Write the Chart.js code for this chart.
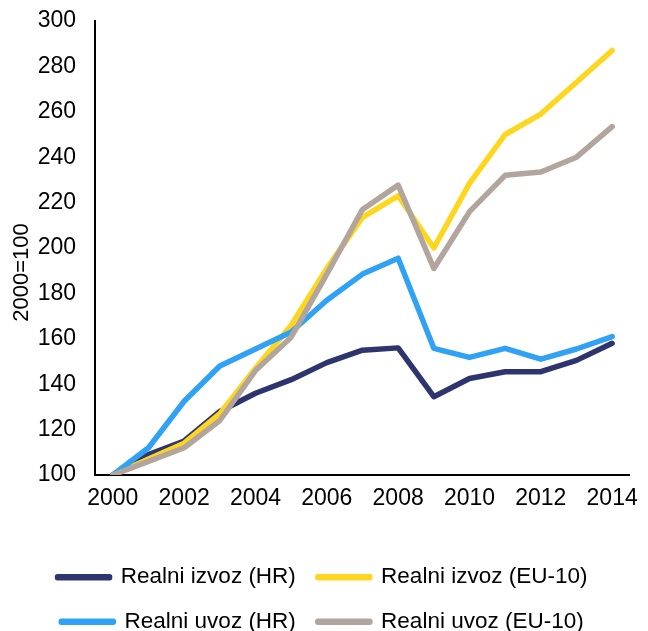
<!DOCTYPE html>
<html>
<head>
<meta charset="utf-8">
<script src="https://cdn.jsdelivr.net/npm/chart.js@4"></script>
<style>
    html, body { margin: 0; padding: 0; background: #fff; }
    .chart-container { position: relative; width: 648px; height: 631px; }
</style>
</head>
<body>
<div class="chart-container">
    <canvas id="tradeChart"></canvas>
</div>
<script>
// Years on the x axis (2000 = 100)
const years = ["2000", "2001", "2002", "2003", "2004", "2005", "2006", "2007",
    "2008", "2009", "2010", "2011", "2012", "2013", "2014"];

// Series
const izvozHR = [100, 109, 115, 128, 136, 142, 149.5, 155, 156, 134.5, 142.5, 145.5, 145.5, 150.5, 158];
const izvozEU = [100, 107, 114, 127, 147, 166, 191, 213.5, 223, 200, 228.5, 250, 259, 273, 287];
const uvozHR = [100, 112, 132.5, 148, 155.5, 163, 177, 188.5, 195.5, 155.8, 151.8, 155.8, 151, 155.5, 161];
const uvozEU = [100, 106, 112, 124, 146, 160.7, 188.5, 217, 227.7, 191, 216, 232, 233.5, 240, 253.5];

// Y axis range
const yMin = 100;
const yMax = 300;
const yStep = 20;

const fontFamily = "'Liberation Sans', Arial, sans-serif";

function lineSet(label, data, color, order) {
    return {
        label: label,
        data: data,
        borderColor: color,
        backgroundColor: color,
        borderWidth: 5.5,
        borderJoinStyle: "round",
        borderCapStyle: "round",
        pointRadius: 0,
        tension: 0,
        fill: false,
        order: order
    };
}

document.addEventListener("DOMContentLoaded", () => {
    const ctx = document.getElementById("tradeChart").getContext("2d");

    new Chart(ctx, {
        type: "line",
        data: {
            labels: years,
            datasets: [
                lineSet("Realni izvoz (HR)", izvozHR, "#2e346e", 3),
                lineSet("Realni izvoz (EU-10)", izvozEU, "#ffd61e", 2),
                lineSet("Realni uvoz (HR)", uvozHR, "#2fa2f5", 1),
                lineSet("Realni uvoz (EU-10)", uvozEU, "#b1a59e", 0)
            ]
        },
        options: {
            responsive: true,
            maintainAspectRatio: false,
            animation: false,
            layout: {
                padding: { top: 21, left: 5, right: 8, bottom: -12 }
            },
            scales: {
                x: {
                    type: "category",
                    offset: true,
                    grid: { display: false, drawTicks: false },
                    border: { display: true, color: "#000", width: 2 },
                    ticks: {
                        autoSkip: false,
                        maxRotation: 0,
                        padding: 10,
                        color: "#000",
                        font: { family: fontFamily, size: 23 },
                        callback: function (value, index) {
                            return index % 2 === 0 ? this.getLabelForValue(value) : "";
                        }
                    },
                    afterFit: scale => { scale.height = 69; }
                },
                y: {
                    min: yMin,
                    max: yMax,
                    grid: { display: false, drawTicks: false },
                    border: { display: true, color: "#000", width: 2 },
                    ticks: {
                        stepSize: yStep,
                        padding: 19,
                        color: "#000",
                        font: { family: fontFamily, size: 23 }
                    },
                    title: {
                        display: true,
                        // trailing spaces push the title a bit lower, as in the source
                        text: "2000=100        ",
                        color: "#000",
                        padding: { top: 4, bottom: 4 },
                        font: { family: fontFamily, size: 22 }
                    },
                    afterFit: scale => {
                        scale.width = 90;
                        // let layout.padding decide the top of the plot
                        scale.paddingTop = 10;
                        scale.paddingBottom = 10;
                    }
                }
            },
            plugins: {
                legend: {
                    position: "bottom",
                    align: "center",
                    labels: {
                        boxWidth: 52,
                        boxHeight: 1,
                        padding: 22,
                        color: "#000",
                        font: { family: fontFamily, size: 22.5 },
                        sort: (a, b) => a.datasetIndex - b.datasetIndex
                    }
                },
                tooltip: { enabled: false }
            }
        }
    });
});
</script>
</body>
</html>
